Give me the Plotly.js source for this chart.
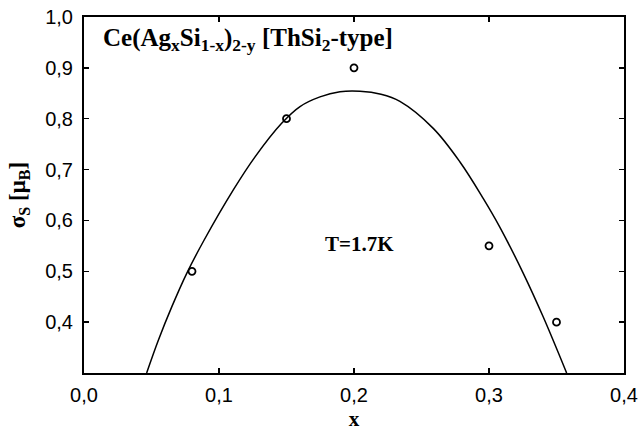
<!DOCTYPE html>
<html>
<head>
<meta charset="utf-8">
<script src="https://cdn.plot.ly/plotly-3.0.1.min.js"></script>
<style>html,body{margin:0;padding:0;background:#fff;}#chart{width:640px;height:431px;}</style>
</head>
<body>
<div id="chart"></div>
<script>
// Measured points
const pointX = [0.08, 0.15, 0.20, 0.30, 0.35];
const pointY = [0.50, 0.80, 0.90, 0.55, 0.40];
// Fitted curve
const curveX = [0.0464, 0.0550, 0.0650, 0.0761, 0.0889, 0.1106, 0.1267, 0.1464, 0.1600, 0.1748, 0.1896, 0.2044, 0.2200, 0.2340, 0.2587, 0.2785, 0.2958, 0.3080, 0.3254, 0.3402, 0.3575];
const curveY = [0.300, 0.364, 0.430, 0.496, 0.561, 0.660, 0.725, 0.791, 0.824, 0.843, 0.853, 0.854, 0.848, 0.834, 0.781, 0.715, 0.643, 0.587, 0.496, 0.410, 0.300];
const xTicks = [0.0, 0.1, 0.2, 0.3, 0.4];
const yTicks = [0.4, 0.5, 0.6, 0.7, 0.8, 0.9, 1.0];

const traces = [
  {x: curveX, y: curveY, mode: 'lines', line: {color: '#000', width: 1.5, shape: 'spline', smoothing: 1}, hoverinfo: 'skip'},
  {x: pointX, y: pointY, mode: 'markers', marker: {symbol: 'circle-open', size: 7, color: '#000', line: {width: 1.8, color: '#000'}}}
];

const axisCommon = {
  showline: true, linecolor: '#000', linewidth: 2, mirror: 'ticks',
  ticks: 'inside', ticklen: 5, tickwidth: 1.5, tickcolor: '#000',
  showgrid: false, zeroline: false,
  tickfont: {family: 'Liberation Sans, Arial, sans-serif', size: 20, color: '#000'}
};

const layout = {
  width: 640, height: 431,
  margin: {l: 84, r: 16, t: 17, b: 58},
  paper_bgcolor: '#fff', plot_bgcolor: '#fff',
  showlegend: false,
  separators: ', ',
  xaxis: Object.assign({}, axisCommon, {
    range: [0, 0.4], tickvals: xTicks, tickformat: '.1f', ticklabelstandoff: 3,
    title: {text: '<b>x</b>', font: {family: 'Liberation Serif, Times New Roman, serif', size: 21, color: '#000'}, standoff: 13}
  }),
  yaxis: Object.assign({}, axisCommon, {
    range: [0.3, 1.0], tickvals: yTicks, tickformat: '.1f', ticklabelstandoff: 5,
    title: {text: '<b>σ<sub>S</sub> [μ<sub>B</sub>]</b>', font: {family: 'Liberation Serif, Times New Roman, serif', size: 23, color: '#000'}, standoff: 13}
  }),
  annotations: [
    {xref: 'paper', yref: 'paper', x: 0.031, y: 0.985, xanchor: 'left', yanchor: 'top', showarrow: false,
     text: '<b>Ce(Ag<sub>x</sub>Si<sub>1-x</sub>)<sub>2-y</sub> [ThSi<sub>2</sub>-type]</b>',
     font: {family: 'Liberation Serif, Times New Roman, serif', size: 25, color: '#000'}},
    {xref: 'x', yref: 'y', x: 0.2037, y: 0.553, xanchor: 'center', yanchor: 'middle', showarrow: false,
     text: '<b>T=1.7K</b>',
     font: {family: 'Liberation Serif, Times New Roman, serif', size: 21, color: '#000'}}
  ]
};

Plotly.newPlot('chart', traces, layout, {displayModeBar: false, staticPlot: true});
</script>
</body>
</html>
